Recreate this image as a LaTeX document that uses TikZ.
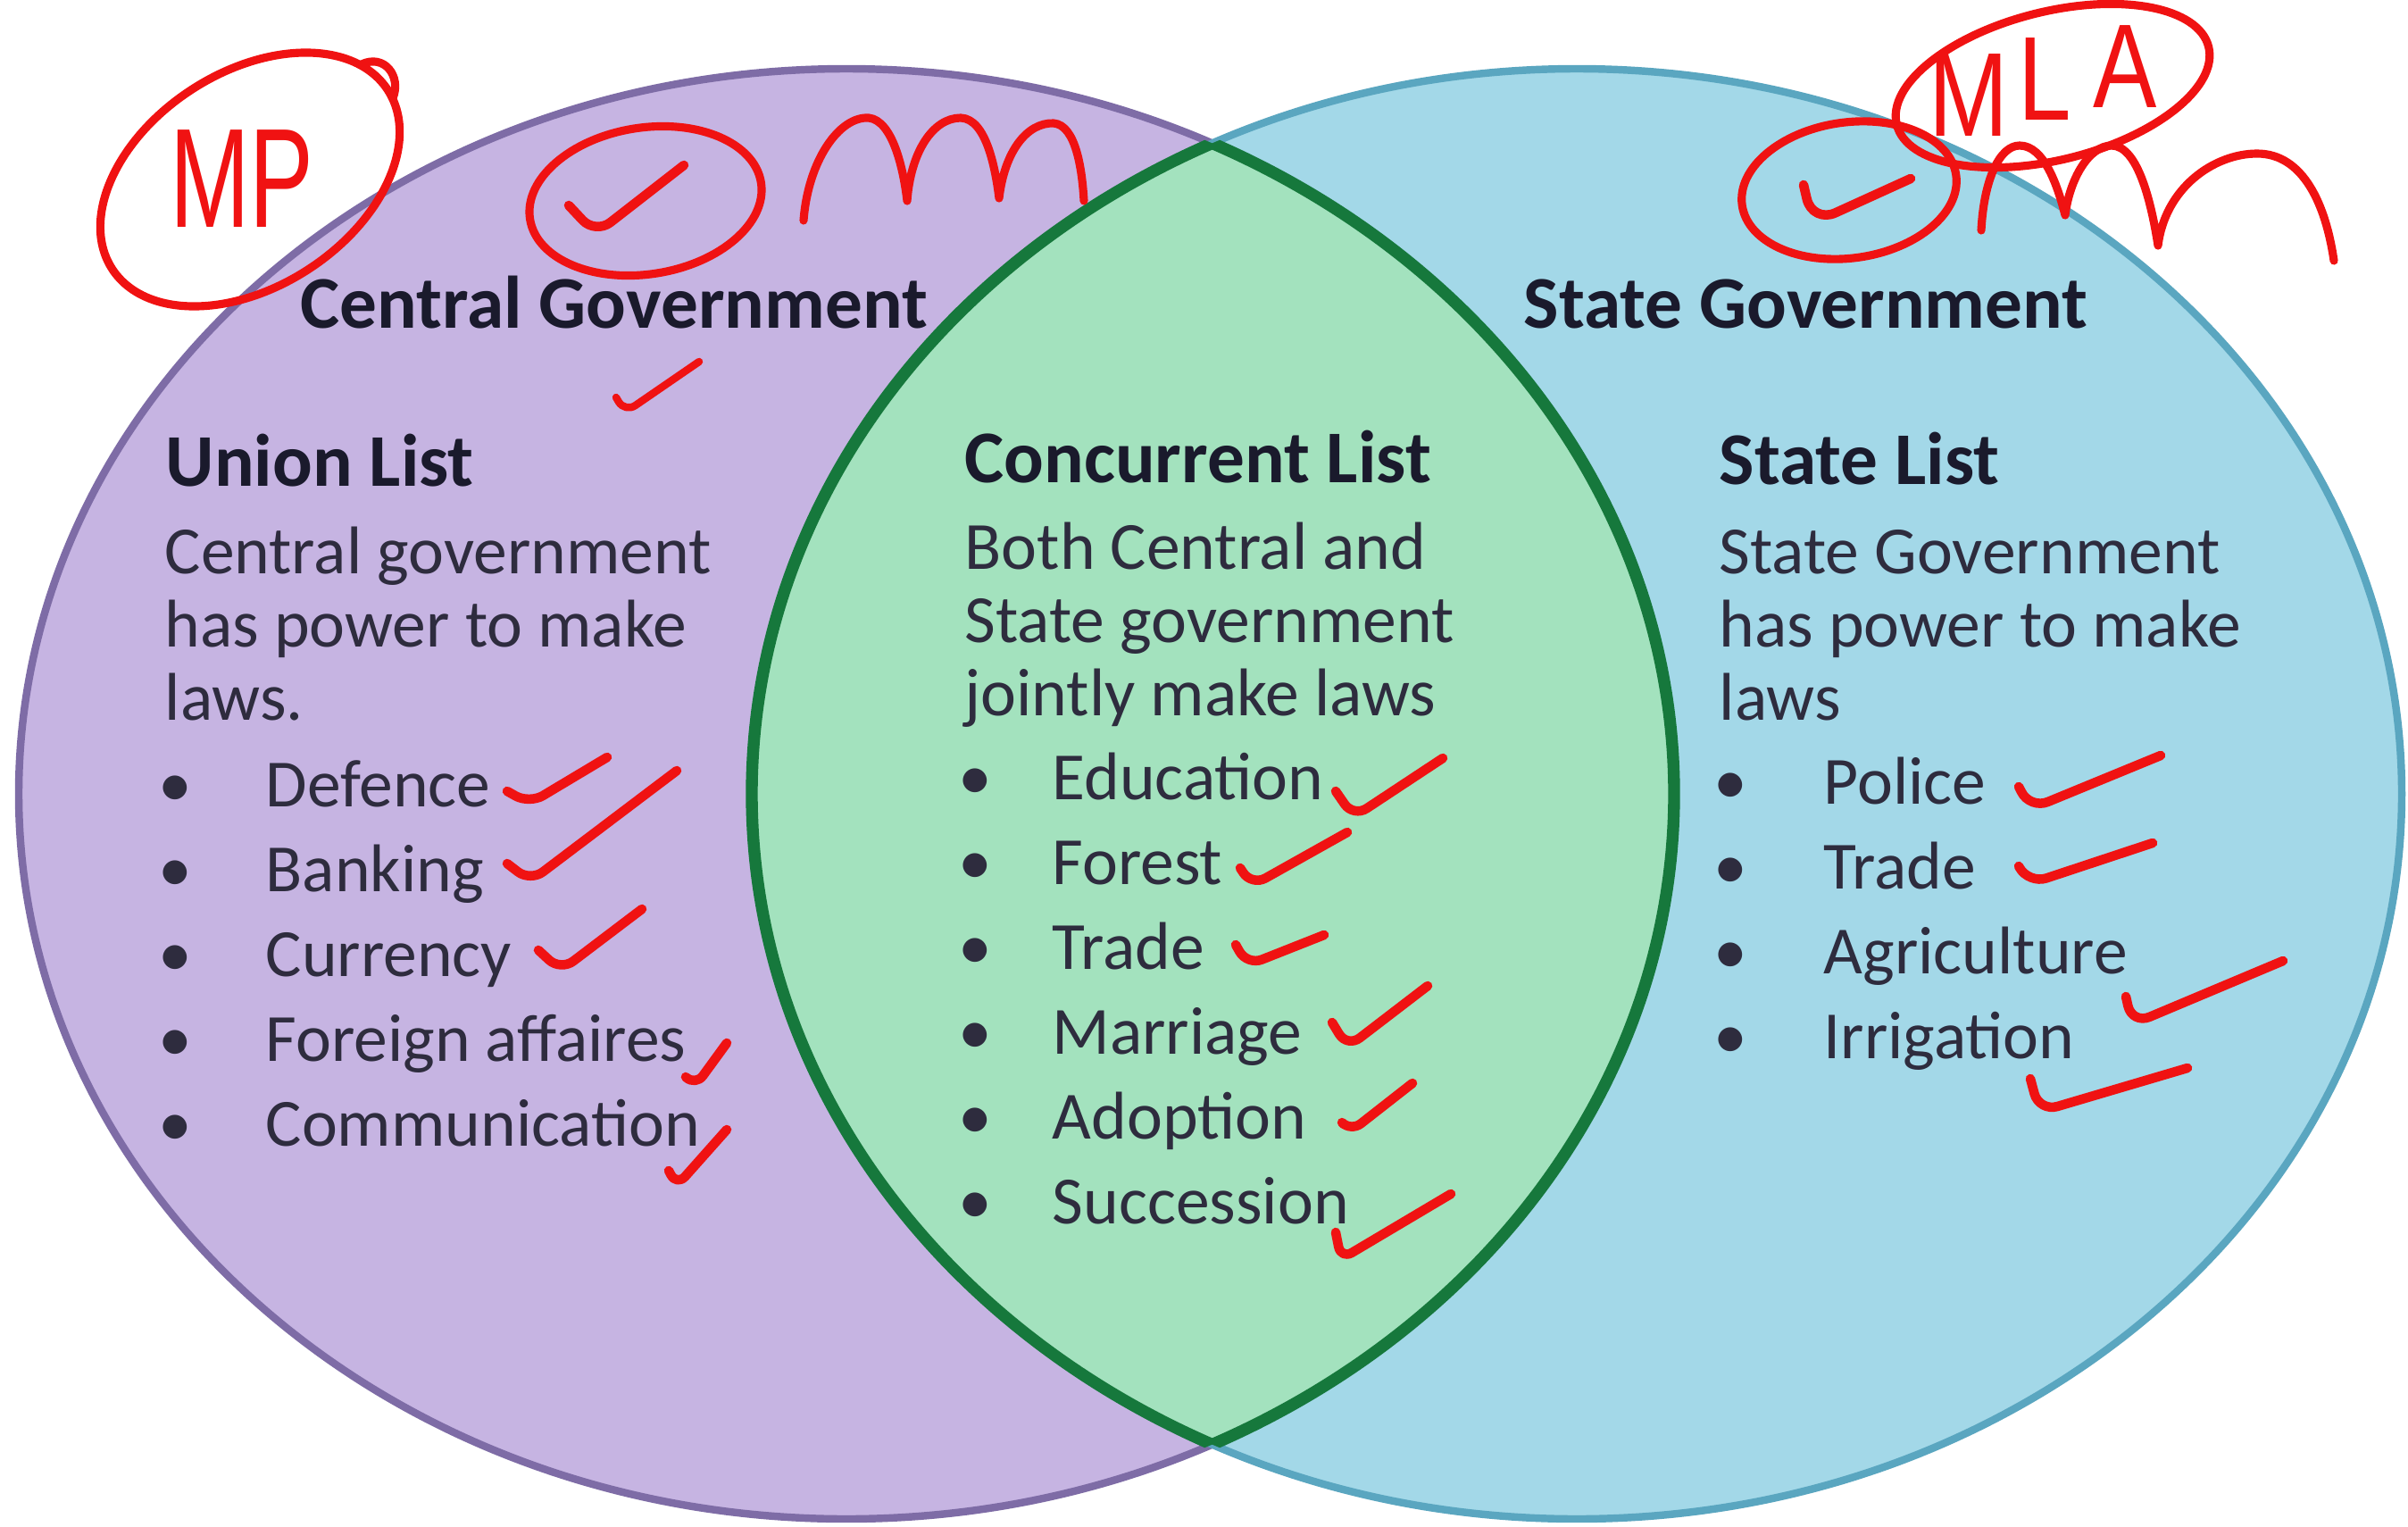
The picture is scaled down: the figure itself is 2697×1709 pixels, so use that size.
\documentclass[tikz,border=0pt]{standalone}
\usepackage{fontspec}
\setmainfont{Carlito}
\newfontfamily\handfont{Liberation Sans}
\definecolor{purfill}{RGB}{198,180,226}
\definecolor{purline}{RGB}{126,108,166}
\definecolor{bluefill}{RGB}{163,216,232}
\definecolor{blueline}{RGB}{90,166,192}
\definecolor{grnfill}{RGB}{163,226,190}
\definecolor{grnline}{RGB}{22,120,60}
\definecolor{headc}{RGB}{26,26,44}
\definecolor{bodyc}{RGB}{46,44,62}
\definecolor{penred}{RGB}{240,18,18}
\begin{document}
\begin{tikzpicture}[x=0.01cm,y=0.01cm,
  head/.style={anchor=base west,inner sep=0,font=\fontsize{23.7}{28}\selectfont\bfseries,text=headc},
  body/.style={anchor=base west,inner sep=0,font=\fontsize{21.5}{26}\selectfont,text=bodyc},
  bul/.style={anchor=base,inner sep=0,font=\fontsize{21.5}{26}\selectfont,text=bodyc},
  pen/.style={draw=penred,line width=2.6pt,line cap=round,line join=round},
  tick/.style={pen,line width=3pt},
  hand/.style={inner sep=0,text=penred,font=\handfont\fontsize{45}{50}\selectfont},
  handsm/.style={inner sep=0,anchor=base,text=penred,font=\handfont\fontsize{38}{42}\selectfont,xscale=0.8}]
\useasboundingbox (0,0) rectangle (2697,-1709);
\fill[white] (0,0) rectangle (2697,-1709);
% circles
\fill[purfill] (948,-889) ellipse [x radius=927,y radius=812];
\fill[bluefill] (1766,-889) ellipse [x radius=924,y radius=812];
\draw[purline,line width=2.4pt] (948,-889) ellipse [x radius=927,y radius=812];
\draw[blueline,line width=2.4pt] (1766,-889) ellipse [x radius=924,y radius=812];
\begin{scope}
  \clip (948,-889) ellipse [x radius=927,y radius=812];
  \fill[grnfill] (1766,-889) ellipse [x radius=924,y radius=812];
  \draw[grnline,line width=3.8pt] (1766,-889) ellipse [x radius=924,y radius=812];
\end{scope}
\begin{scope}
  \clip (1766,-889) ellipse [x radius=924,y radius=812];
  \draw[grnline,line width=3.8pt] (948,-889) ellipse [x radius=927,y radius=812];
\end{scope}
% headings
\node[head] (cg) at (336,-367) {Central Government};
\node[head] (sg) at (1706,-367) {State Government};
% union list
\node[head] (ul) at (185,-544) {Union List};
\node[body] (u1) at (184,-642) {Central government};
\node[body] (u2) at (184,-724) {has power to make};
\node[body] (u3) at (184,-806) {laws.};
\node[bul] (ub1) at (196,-903) {•};
\node[body] (ui1) at (297,-903) {Defence};
\node[bul] (ub2) at (196,-998) {•};
\node[body] (ui2) at (297,-998) {Banking};
\node[bul] (ub3) at (196,-1093) {•};
\node[body] (ui3) at (297,-1093) {Currency};
\node[bul] (ub4) at (196,-1188) {•};
\node[body] (ui4) at (297,-1188) {Foreign affaires};
\node[bul] (ub5) at (196,-1283) {•};
\node[body] (ui5) at (297,-1283) {Communication};
% concurrent list
\node[head] (cl) at (1080,-540) {Concurrent List};
\node[body] (c1) at (1080,-637) {Both Central and};
\node[body] (c2) at (1080,-719) {State government};
\node[body] (c3) at (1080,-801) {jointly make laws};
\node[bul] (cb1) at (1092,-895) {•};
\node[body] (ci1) at (1178,-895) {Education};
\node[bul] (cb2) at (1092,-990) {•};
\node[body] (ci2) at (1178,-990) {Forest};
\node[bul] (cb3) at (1092,-1085) {•};
\node[body] (ci3) at (1178,-1085) {Trade};
\node[bul] (cb4) at (1092,-1180) {•};
\node[body] (ci4) at (1178,-1180) {Marriage};
\node[bul] (cb5) at (1092,-1275) {•};
\node[body] (ci5) at (1178,-1275) {Adoption};
\node[bul] (cb6) at (1092,-1370) {•};
\node[body] (ci6) at (1178,-1370) {Succession};
% state list
\node[head] (sl) at (1925,-542) {State List};
\node[body] (s1) at (1925,-642) {State Government};
\node[body] (s2) at (1925,-724) {has power to make};
\node[body] (s3) at (1925,-806) {laws};
\node[bul] (sb1) at (1938,-900) {•};
\node[body] (si1) at (2042,-900) {Police};
\node[bul] (sb2) at (1938,-995) {•};
\node[body] (si2) at (2042,-995) {Trade};
\node[bul] (sb3) at (1938,-1090) {•};
\node[body] (si3) at (2042,-1090) {Agriculture};
\node[bul] (sb4) at (1938,-1185) {•};
\node[body] (si4) at (2042,-1185) {Irrigation};
% annotations: MP
\node[hand,xscale=0.68] (mp) at (271,-200) {MP};
\draw[pen] (280,-201) ellipse [x radius=184,y radius=120,rotate=33];
\draw[pen] (405,-72) .. controls (430,-60) and (450,-85) .. (440,-110);
% circled check left
\draw[pen] (723,-225) ellipse [x radius=131,y radius=82,rotate=9];
\draw[tick,rounded corners=6pt] (637,-230) -- (667,-262) -- (766,-185);
% m scribble left
\draw[pen] (900,-247) .. controls (905,-180) and (940,-130) .. (973,-132)
  .. controls (1000,-135) and (1012,-190) .. (1016,-225)
  .. controls (1020,-170) and (1045,-132) .. (1076,-132)
  .. controls (1105,-133) and (1115,-190) .. (1119,-222)
  .. controls (1125,-170) and (1150,-137) .. (1180,-138)
  .. controls (1205,-140) and (1212,-190) .. (1214,-225);
% small check under Central Government
\draw[pen,line width=2.4pt,rounded corners=4pt] (690,-445) -- (700,-462) -- (783,-405);
% MLA
\node[handsm] (mla1) at (2205,-152) {M};
\node[handsm] (mla2) at (2290,-134) {L};
\node[handsm] (mla3) at (2380,-120) {A};
\draw[pen] (2299,-96) ellipse [x radius=180,y radius=83,rotate=14];
% circled check right
\draw[pen] (2071,-213) ellipse [x radius=121,y radius=76,rotate=8];
\draw[tick,rounded corners=8pt] (2020,-207) -- (2030,-250) -- (2140,-200);
% m scribble right
\draw[pen] (2219,-258) .. controls (2222,-200) and (2240,-163) .. (2262,-163)
  .. controls (2290,-163) and (2305,-210) .. (2313,-241)
  .. controls (2318,-200) and (2340,-163) .. (2365,-163)
  .. controls (2395,-163) and (2410,-230) .. (2417,-275)
  .. controls (2425,-210) and (2480,-172) .. (2528,-172)
  .. controls (2580,-172) and (2605,-230) .. (2614,-292);
% checks union list
\draw[tick,rounded corners=5pt] (568,-886) -- (593,-900) -- (680,-848);
\draw[tick,rounded corners=5pt] (568,-967) -- (594,-987) -- (758,-863);
\draw[tick,rounded corners=5pt] (603,-1064) -- (628,-1087) -- (719,-1018);
\draw[tick,rounded corners=4pt] (768,-1206) -- (779,-1216) -- (814,-1168);
\draw[tick,rounded corners=4pt] (749,-1311) -- (758,-1328) -- (814,-1265);
% checks concurrent list
\draw[tick,rounded corners=5pt] (1496,-886) -- (1516,-915) -- (1616,-849);
\draw[tick,rounded corners=5pt] (1389,-972) -- (1402,-992) -- (1509,-932);
\draw[tick,rounded corners=5pt] (1384,-1058) -- (1397,-1081) -- (1483,-1047);
\draw[tick,rounded corners=5pt] (1492,-1145) -- (1509,-1173) -- (1599,-1104);
\draw[tick,rounded corners=4pt] (1505,-1259) -- (1513,-1267) -- (1582,-1213);
\draw[tick,rounded corners=4pt] (1496,-1380) -- (1502,-1410) -- (1625,-1337);
% checks state list
\draw[tick,rounded corners=6pt] (2261,-881) -- (2274,-906) -- (2420,-846);
\draw[tick,rounded corners=6pt] (2261,-970) -- (2272,-990) -- (2411,-944);
\draw[tick,rounded corners=6pt] (2381,-1116) -- (2388,-1147) -- (2557,-1076);
\draw[tick,rounded corners=6pt] (2274,-1208) -- (2284,-1245) -- (2450,-1196);
\end{tikzpicture}
\end{document}
